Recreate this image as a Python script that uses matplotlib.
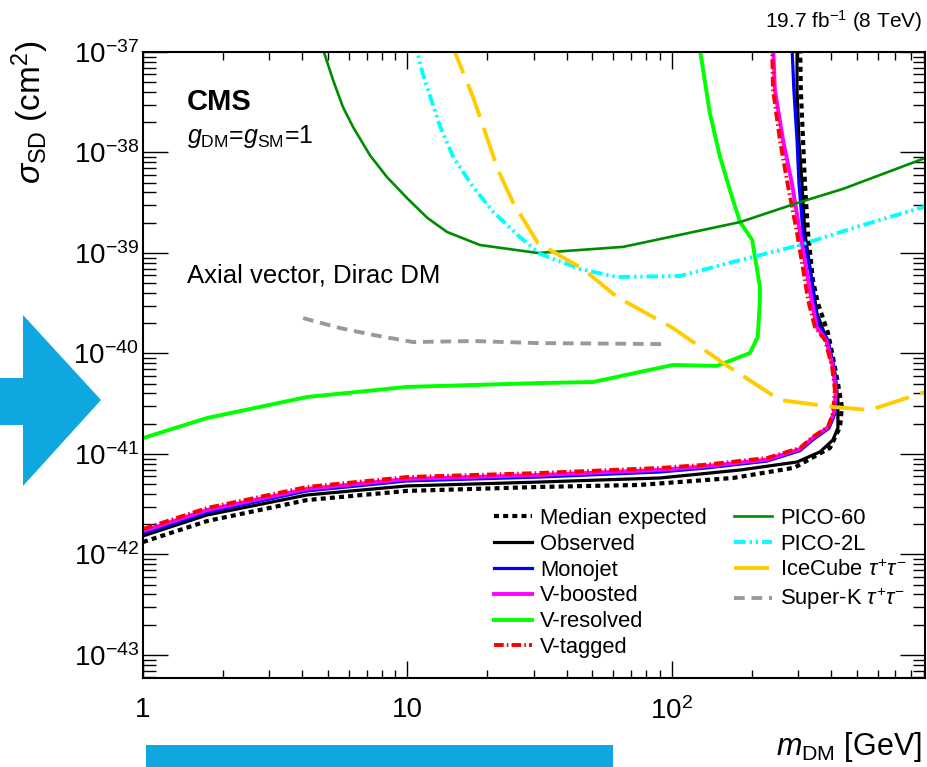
import numpy as np
import matplotlib
matplotlib.use("Agg")
import matplotlib.pyplot as plt
from matplotlib.patches import Polygon, Rectangle
from matplotlib.ticker import FixedLocator, FixedFormatter, LogLocator, NullFormatter

plt.rcParams['font.family'] = ['Liberation Sans', 'DejaVu Sans']
plt.rcParams['mathtext.fontset'] = 'custom'
plt.rcParams['mathtext.rm'] = 'Liberation Sans'
plt.rcParams['mathtext.it'] = 'Liberation Sans:italic'
plt.rcParams['mathtext.bf'] = 'Liberation Sans:bold'
plt.rcParams['mathtext.sf'] = 'Liberation Sans'

# ---------------- data (m_DM in GeV, sigma_SD in cm^2) ----------------
median_x = [1, 1.746, 4.17, 9.96, 31.7, 75.7, 170, 290, 396, 432, 439, 424, 406, 389, 356, 341, 327, 318, 313, 307, 305]
median_y = [1.33e-42, 2.15e-42, 3.48e-42, 4.29e-42, 4.7e-42, 4.92e-42, 5.77e-42, 7.3e-42, 1.15e-41, 1.86e-41,
            2.94e-41, 5.08e-41, 9.23e-41, 1.60e-40, 3.18e-40, 5.39e-40, 1.58e-39, 4.97e-39, 1.33e-38, 4.19e-38, 1.2e-37]

observed_x = [1, 1.746, 4.17, 9.96, 31.7, 90.1, 181, 297, 363, 406, 424, 424, 413, 389, 353, 338, 318, 310, 302, 297, 297]
observed_y = [1.53e-42, 2.47e-42, 3.91e-42, 4.81e-42, 5.26e-42, 5.77e-42, 6.93e-42, 8.32e-42, 1.05e-41, 1.38e-41,
              1.82e-41, 3.44e-41, 6.40e-41, 1.27e-40, 2.53e-40, 5.39e-40, 1.58e-39, 4.97e-39, 1.33e-38, 4.19e-38, 1.2e-37]

monojet_x = [1, 1.746, 4.17, 9.96, 31.7, 90.1, 131, 229, 305, 345, 392, 413, 418, 410, 389, 360, 347, 338, 313, 302, 297, 289, 284]
monojet_y = [1.62e-42, 2.62e-42, 4.29e-42, 5.39e-42, 5.90e-42, 6.62e-42, 7.2e-42, 8.5e-42, 1.08e-41, 1.42e-41,
             1.8e-41, 2.5e-41, 4.3e-41, 7.3e-41, 1.36e-40, 1.9e-40, 2.9e-40, 5.39e-40, 1.58e-39, 4.97e-39,
             1.33e-38, 4.19e-38, 1.2e-37]

vboosted_x = [1, 1.746, 4.17, 9.96, 31.7, 90.1, 131, 229, 305, 341, 389, 410, 416, 406, 383, 352, 341, 327, 305, 284, 263, 245, 241]
vboosted_y = [1.71e-42, 2.77e-42, 4.49e-42, 5.64e-42, 6.18e-42, 6.95e-42, 7.5e-42, 8.8e-42, 1.12e-41, 1.45e-41,
              1.84e-41, 2.6e-41, 4.3e-41, 7.3e-41, 1.36e-40, 1.84e-40, 2.9e-40, 5.39e-40, 1.58e-39, 4.97e-39,
              1.33e-38, 4.19e-38, 1.2e-37]

vtagged_x = [1, 1.746, 4.17, 9.96, 31.7, 90.1, 131, 229, 305, 341, 389, 406, 413, 403, 379, 347, 327, 318, 297, 272, 256, 241, 239]
vtagged_y = [1.79e-42, 2.90e-42, 4.70e-42, 5.90e-42, 6.47e-42, 7.26e-42, 7.78e-42, 9.12e-42, 1.15e-41, 1.48e-41,
             1.86e-41, 2.56e-41, 4.34e-41, 7.34e-41, 1.36e-40, 1.84e-40, 3.41e-40, 5.39e-40, 1.58e-39, 5.3e-39,
             1.33e-38, 4.19e-38, 1.2e-37]

vresolved_x = [1, 1.746, 4.17, 9.96, 31.7, 50.3, 75.6, 101, 148, 197, 211, 215, 215, 201, 181, 170, 152, 139, 128, 126]
vresolved_y = [1.44e-41, 2.28e-41, 3.69e-41, 4.65e-41, 5.08e-41, 5.20e-41, 6.55e-41, 7.69e-41, 7.52e-41, 1.01e-40,
               1.46e-40, 3.40e-40, 4.59e-40, 1.35e-39, 2.03e-39, 3.37e-39, 9.0e-39, 2.47e-38, 1.0e-37, 1.3e-37]

pico60_x = [4.65, 4.83, 5.23, 5.70, 6.22, 7.21, 8.36, 9.96, 11.9, 14.1, 18.8, 31.1, 65.3, 181, 305, 443, 905]
pico60_y = [1.3e-37, 1.0e-37, 5.26e-38, 2.84e-38, 1.80e-38, 9.4e-39, 5.70e-39, 3.52e-39, 2.23e-39, 1.62e-39,
            1.20e-39, 1.0e-39, 1.15e-39, 2.03e-39, 3.21e-39, 4.34e-39, 8.8e-39]

pico2l_x = [10.6, 10.9, 11.4, 12.2, 13.3, 14.9, 17.7, 21.1, 26.6, 31.7, 44.9, 62.0, 107, 181, 305, 500, 905]
pico2l_y = [1.3e-37, 1.0e-37, 6.17e-38, 3.56e-38, 1.80e-38, 9.0e-39, 4.54e-39, 2.56e-39, 1.44e-39, 9.8e-40,
            6.93e-40, 5.77e-40, 5.90e-40, 8.5e-40, 1.20e-39, 1.82e-39, 2.9e-39]

icecube_x = [14.6, 15.1, 17.7, 22.0, 25.1, 31.1, 46.1, 62.0, 101, 156, 256, 406, 561, 905]
icecube_y = [1.3e-37, 1.0e-37, 3.56e-38, 6.70e-39, 3.15e-39, 1.26e-39, 6.93e-40, 3.65e-40, 1.79e-40, 8.04e-41,
             3.44e-41, 2.94e-41, 2.74e-41, 4.14e-41]

superk_x = [4.03, 5.56, 7.41, 10.5, 17.7, 30.9, 96.6]
superk_y = [2.25e-40, 1.79e-40, 1.53e-40, 1.30e-40, 1.33e-40, 1.27e-40, 1.24e-40]

xtick_values = [1, 10, 100]
xtick_labels = ["1", "10", r"$10^{2}$"]
ytick_values = [1e-43, 1e-42, 1e-41, 1e-40, 1e-39, 1e-38, 1e-37]
ytick_labels = [r"$10^{-43}$", r"$10^{-42}$", r"$10^{-41}$", r"$10^{-40}$", r"$10^{-39}$", r"$10^{-38}$", r"$10^{-37}$"]

# ---------------- figure ----------------
fig = plt.figure(figsize=(9.28, 7.67), dpi=100)
ax = fig.add_axes([143/928, 1-678/767, (925-143)/928, (678-52)/767])
ax.set_xscale('log')
ax.set_yscale('log')
ax.set_xlim(1, 905)
ax.set_ylim(5.9e-44, 1e-37)

h_med, = ax.plot(median_x, median_y, color='black', lw=3.0, ls=(0, (1.2, 1.0)), label='Median expected')
h_obs, = ax.plot(observed_x, observed_y, color='black', lw=2.3, label='Observed')
h_mono, = ax.plot(monojet_x, monojet_y, color='#0000FF', lw=2.3, label='Monojet')
h_vb, = ax.plot(vboosted_x, vboosted_y, color='#FF00FF', lw=2.8, label='V-boosted')
h_vr, = ax.plot(vresolved_x, vresolved_y, color='#00FF00', lw=2.8, label='V-resolved')
h_vt, = ax.plot(vtagged_x, vtagged_y, color='#FF0000', lw=2.8, ls=(0, (2.5, 0.8, 0.4, 0.8)), label='V-tagged')
h_p60, = ax.plot(pico60_x, pico60_y, color='#008C00', lw=1.9, label='PICO-60')
h_p2l, = ax.plot(pico2l_x, pico2l_y, color='#00FFFF', lw=2.8, ls=(0, (3.0, 1.0, 0.6, 1.0, 0.6, 1.0)), label='PICO-2L')
h_ice, = ax.plot(icecube_x, icecube_y, color='#FFCC00', lw=2.8, ls=(0, (9, 3)), label=r'IceCube $\tau^{+}\tau^{-}$')
h_sk, = ax.plot(superk_x, superk_y, color='#999999', lw=2.8, ls=(0, (2.75, 1.75)), label=r'Super-K $\tau^{+}\tau^{-}$')

# ticks
ax.xaxis.set_major_locator(FixedLocator(xtick_values))
ax.xaxis.set_major_formatter(FixedFormatter(xtick_labels))
ax.xaxis.set_minor_locator(LogLocator(base=10, subs=np.arange(2, 10), numticks=20))
ax.xaxis.set_minor_formatter(NullFormatter())
ax.yaxis.set_major_locator(FixedLocator(ytick_values))
ax.yaxis.set_major_formatter(FixedFormatter(ytick_labels))
ax.yaxis.set_minor_locator(LogLocator(base=10, subs=np.arange(2, 10), numticks=30))
ax.yaxis.set_minor_formatter(NullFormatter())

ax.tick_params(which='both', direction='in', top=True, right=True, width=1.0, colors='black')
ax.tick_params(axis='x', which='major', length=12, labelsize=20, pad=14)
ax.tick_params(axis='x', which='minor', length=6)
ax.tick_params(axis='y', which='major', length=18, labelsize=20, pad=3)
ax.tick_params(axis='y', which='minor', length=9)
for s in ax.spines.values():
    s.set_linewidth(1.5)

# legends
lkw = dict(frameon=False, fontsize=15.8, handlelength=1.73, handletextpad=0.37,
           labelspacing=0.22, borderpad=0, borderaxespad=0, loc='upper left')
leg1 = ax.legend(handles=[h_med, h_obs, h_mono, h_vb, h_vr, h_vt],
                 bbox_to_anchor=((494-143)/782, (678-508)/626), **lkw)
ax.add_artist(leg1)
ax.legend(handles=[h_p60, h_p2l, h_ice, h_sk],
          bbox_to_anchor=((734-143)/782, (678-508)/626), **lkw)

# texts inside
ax.text((187-143)/782, (678-110)/626, "CMS", fontsize=21, fontweight='bold',
        transform=ax.transAxes, ha='left', va='baseline')
ax.text((187-143)/782, (678-143)/626, r"$g_{\rm DM}$=$g_{\rm SM}$=1", fontsize=18,
        transform=ax.transAxes, ha='left', va='baseline')
ax.text((187-143)/782, (678-283)/626, "Axial vector, Dirac DM", fontsize=18.5,
        transform=ax.transAxes, ha='left', va='baseline')

# outer texts
fig.text(922/928, 1-28/767, r"19.7 fb$^{-1}$ (8 TeV)", fontsize=15, ha='right', va='baseline')
fig.text(922/928, 1-755/767, r"$m_{\rm DM}$ [GeV]", fontsize=22, ha='right', va='baseline')
fig.text(30/928, 1-40/767, r"$\sigma_{\rm SD}$ (cm$^{2}$)", fontsize=24, rotation=90, ha='center', va='top')

# decorations (blue arrow and banner)
blue = '#0EA7E0'
arrow_px = [(0, 378), (23, 378), (23, 315), (101, 400), (23, 486), (23, 425), (0, 425)]
fig.add_artist(Polygon([(px/928, 1-py/767) for px, py in arrow_px], closed=True,
                       transform=fig.transFigure, facecolor=blue, edgecolor='none'))
fig.add_artist(Rectangle((146/928, 0), (613-146)/928, (767-745)/767,
                         transform=fig.transFigure, facecolor=blue, edgecolor='none'))

fig.savefig("out.png", dpi=100)
